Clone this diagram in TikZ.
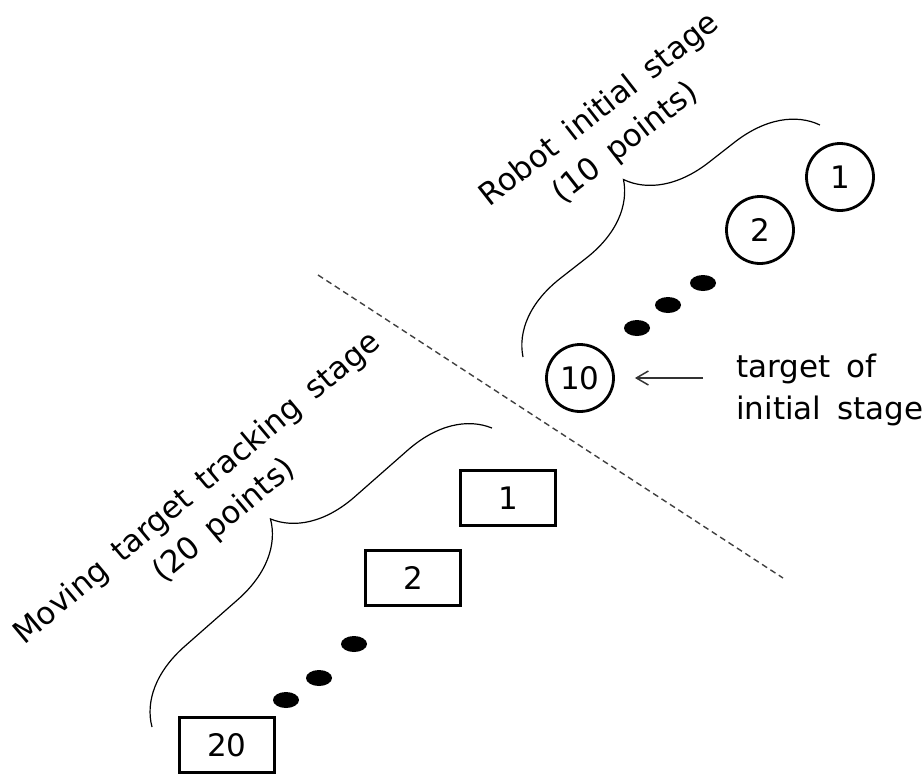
\documentclass[tikz,border=0pt]{standalone}
\usepackage{fontspec}
\setmainfont{DejaVu Sans}[WordSpace=1.6]
\usetikzlibrary{arrows.meta,decorations.pathreplacing}

\tikzset{
  txt/.style={font=\fontsize{31}{42}\selectfont, inner sep=0pt},
  ptcircle/.style={draw, circle, line width=2.8pt, minimum size=67pt, inner sep=0pt, txt},
  ptbox/.style={draw, rectangle, line width=2.8pt, minimum width=95pt, minimum height=55pt, inner sep=0pt, txt},
  stagebrace/.style={decorate, decoration={brace, amplitude=78pt}, line width=1.2pt},
}

\begin{document}
\begin{tikzpicture}[x=1pt, y=-1pt]
  \useasboundingbox (0,0) rectangle (922,774);

  % robot initial stage
  \node[ptcircle] (c1) at (840,177) {1};
  \node[ptcircle] (c2) at (760,230) {2};
  \node[ptcircle] (c10) at (580,378) {10};
  \fill (703,283) ellipse (13pt and 8pt);
  \fill (668,305) ellipse (13pt and 8pt);
  \fill (637,328) ellipse (13pt and 8pt);

  \coordinate (rb0) at (523,357);
  \coordinate (rb1) at (820,125);
  \draw[stagebrace] (rb0) -- (rb1);
  \node[txt, rotate=38, align=center] (robotlbl) at (613,127) {Robot initial stage\\(10 points)};

  \node[txt, align=left, anchor=west] (tgtlbl) at (736,390) {target of\\initial stage};
  \coordinate (tgtarrow) at (703,378);
  \draw[-{Straight Barb[length=12pt,width=14pt]}, line width=1.5pt, black!80, shorten >=20pt] (tgtarrow) -- (c10);

  % stage border
  \draw[dashed, line width=1.4pt, black!75, dash pattern=on 6pt off 4pt] (318,275) -- (783,578);

  % moving target tracking stage
  \node[ptbox] (r1) at (508,498) {1};
  \node[ptbox] (r2) at (413,578) {2};
  \node[ptbox] (r20) at (227,745) {20};
  \fill (354,644) ellipse (13pt and 8pt);
  \fill (319,678) ellipse (13pt and 8pt);
  \fill (286,700) ellipse (13pt and 8pt);

  \coordinate (mb0) at (152,727);
  \coordinate (mb1) at (492,428);
  \draw[stagebrace] (mb0) -- (mb1);
  \node[txt, rotate=40, align=center] (movinglbl) at (211,505) {Moving target tracking stage\\(20 points)};
\end{tikzpicture}
\end{document}
